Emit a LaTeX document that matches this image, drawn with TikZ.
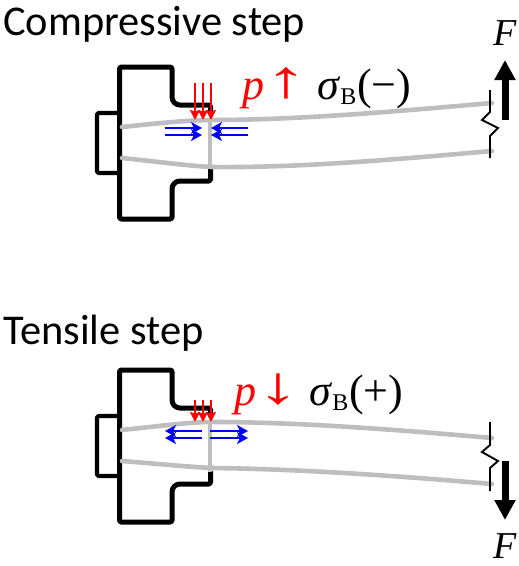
\documentclass[tikz,border=0pt]{standalone}
\usepackage{graphicx}
\usepackage{fontspec}
\setmainfont{Liberation Serif}
\newfontfamily\titlefont{Carlito}
\newfontfamily\arrowfont{Liberation Sans}
\usetikzlibrary{arrows.meta}
\definecolor{bluearrow}{RGB}{0,0,255}
\definecolor{redarrow}{RGB}{255,0,0}
\definecolor{beamgray}{RGB}{190,190,190}
\tikzset{
 x=1pt,y=-1pt,
 outline/.style={draw=black,line width=5pt,line join=round,rounded corners=1.5pt},
 tabline/.style={draw=black,line width=4.2pt,line join=round,rounded corners=1.5pt},
 beam/.style={draw=beamgray,line width=4.6pt,line cap=round,line join=round},
 crack/.style={draw=black,line width=1.9pt},
 force/.style={draw=black,line width=7pt,-{Triangle[length=20pt,width=20pt]}},
 redtip/.style={draw=redarrow,line width=2.5pt,-{Stealth[length=10pt,width=10pt,inset=1.5pt]}},
 bluetip/.style={draw=bluearrow,line width=2.7pt,-{Stealth[length=11pt,width=12pt,inset=3pt]}},
 title/.style={anchor=base west,inner sep=0pt,font=\titlefont\fontsize{42.4}{46}\selectfont},
 fsym/.style={anchor=base,inner sep=0pt,font=\fontsize{38}{40}\selectfont\itshape},
 plabel/.style={anchor=base west,inner sep=0pt,text=redarrow,font=\fontsize{44}{46}\selectfont},
 slabel/.style={anchor=base west,inner sep=0pt,font=\fontsize{44}{46}\selectfont},
}
\newcommand{\sigB}{\textit{σ}\raisebox{-5pt}{\fontsize{24}{26}\selectfont B}\kern1pt}
\newcommand{\hookpart}[1]{%
 \begin{scope}[yshift=#1]
 \draw[tabline] (119.5,113) -- (97,113) -- (97,173) -- (119.5,173);
 \draw[outline] (210.5,114) -- (210.5,105) -- (181,105) [rounded corners=8pt] -- (172,105) [rounded corners=1.5pt] -- (172,67) -- (119.5,67) -- (119.5,219) -- (172,219) [rounded corners=8pt] -- (172,181) [rounded corners=1.5pt] -- (210.5,181) -- (210.5,168);
 \end{scope}}
\begin{document}
\begin{tikzpicture}
\useasboundingbox (0,0) rectangle (519,566);
\node[title] (t1) at (3,35) {Compressive step};
\node[title] (t2) at (3,344) {Tensile step};
% top
\hookpart{0pt}
\draw[beam] (122,127) .. controls (160,123) and (190,120) .. (212,120) .. controls (300,120) and (400,111) .. (492,103);
\draw[beam] (122,158) .. controls (160,162) and (190,166) .. (212,167) .. controls (300,168) and (400,159) .. (492,151);
\draw[beam,line cap=butt] (210,118) -- (210,169);
\draw[redtip] (195,83) -- (195,120);
\draw[redtip] (203,83) -- (203,120);
\draw[redtip] (211,83) -- (211,120);
\draw[bluetip] (165,128) -- (202,128);
\draw[bluetip] (165,135) -- (202,135);
\draw[bluetip] (248,128) -- (211,128);
\draw[bluetip] (248,135) -- (211,135);
\draw[crack] (490,90) -- (490,112) -- (482,120) -- (498,128) -- (490,136) -- (490,158);
\coordinate (fa) at (505,120); \coordinate (fb) at (505,60);
\draw[force] (fa) -- (fb);
\node[fsym] (f1) at (505,45) {F};
\node[plabel] (p1) at (242,99) {\textit{p}};
\node[plabel] (a1) at (265,97) {\scalebox{1.9}[1.2]{\arrowfont\fontsize{44}{46}\selectfont ↑}};
\node[slabel] (s1) at (317,99) {\sigB(−)};
% bottom
\hookpart{-303pt}
\draw[beam] (122,430) .. controls (160,426) and (190,422) .. (212,422) .. controls (300,422) and (400,430) .. (492,438);
\draw[beam] (122,461) .. controls (160,464) and (190,467) .. (212,468) .. controls (300,469) and (400,476) .. (492,484);
\draw[beam,line cap=butt] (210,420) -- (210,472);
\draw[redtip] (195,400) -- (195,422);
\draw[redtip] (203,400) -- (203,422);
\draw[redtip] (211,400) -- (211,422);
\draw[bluetip] (202,431) -- (165,431);
\draw[bluetip] (202,438) -- (165,438);
\draw[bluetip] (210,431) -- (248,431);
\draw[bluetip] (210,438) -- (248,438);
\draw[crack] (490,422) -- (490,445) -- (482,452) -- (498,461) -- (490,468) -- (490,491);
\coordinate (fc) at (505,461); \coordinate (fd) at (505,520);
\draw[force] (fc) -- (fd);
\node[fsym] (f2) at (505,558) {F};
\node[plabel] (p2) at (234,405) {\textit{p}};
\node[plabel] (a2) at (257,403) {\scalebox{1.9}[1.2]{\arrowfont\fontsize{44}{46}\selectfont ↓}};
\node[slabel] (s2) at (309,405) {\sigB(+)};
\end{tikzpicture}
\end{document}
